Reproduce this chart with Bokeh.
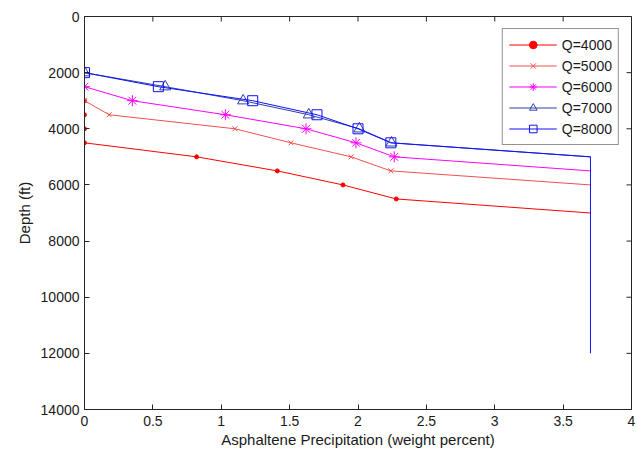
import math
from bokeh.plotting import figure
from bokeh.models import Range1d, FixedTicker, Legend, LegendItem
from bokeh.embed import file_html
from bokeh.resources import INLINE

# ---- data ----
series_names = ["Q=4000", "Q=5000", "Q=6000", "Q=7000", "Q=8000"]

q4000_x = [0, 0, 0, 0, 0, 0.82, 1.41, 1.89, 2.28, 3.70]
q4000_depth = [2500, 3000, 3500, 4000, 4500, 5000, 5500, 6000, 6500, 7000]

q5000_x = [0, 0, 0.18, 1.10, 1.51, 1.95, 2.24, 3.70]
q5000_depth = [2500, 3000, 3500, 4000, 4500, 5000, 5500, 6000]

q6000_x = [0, 0, 0.35, 1.03, 1.62, 1.985, 2.265, 3.70]
q6000_depth = [2000, 2500, 3000, 3500, 4000, 4500, 5000, 5500]

q7000_x = [0, 0, 0.59, 1.16, 1.64, 2.01, 2.245, 3.70]
q7000_depth = [0, 2000, 2500, 3000, 3500, 4000, 4500, 5000]

q8000_x = [0, 0, 0.54, 1.23, 1.70, 2.00, 2.24, 3.70, 3.70]
q8000_depth = [0, 2000, 2500, 3000, 3500, 4000, 4500, 5000, 12000]

x_ticks = [0, 0.5, 1, 1.5, 2, 2.5, 3, 3.5, 4]
y_ticks = [0, 2000, 4000, 6000, 8000, 10000, 12000, 14000]

# ---- styles ----
styles = [
    dict(color="#ff0000", marker="circle", size=4, fill=True, mark=slice(1, 9)),
    dict(color="#ee5050", marker="x", size=7, fill=False, mark=slice(1, 7)),
    dict(color="#ff00ff", marker="asterisk", size=11, fill=False, mark=slice(1, 7)),
    dict(color="#2f40a8", marker="triangle", size=11, fill=False, mark=slice(1, 7)),
    dict(color="#1010ff", marker="square", size=10, fill=False, mark=slice(1, 7)),
]
all_x = [q4000_x, q5000_x, q6000_x, q7000_x, q8000_x]
all_y = [q4000_depth, q5000_depth, q6000_depth, q7000_depth, q8000_depth]

FONT = "Liberation Sans"
TXT = "#1a1a1a"
AXC = "#262626"

p = figure(width=638, height=451, output_backend="svg", toolbar_location=None,
           x_range=Range1d(0, 4), y_range=Range1d(14000, 0),
           x_axis_label="Asphaltene Precipitation (weight percent)",
           y_axis_label="Depth (ft)",
           min_border_left=84, min_border_right=7, min_border_top=16, min_border_bottom=42)
p.grid.visible = False
p.outline_line_color = AXC
p.outline_line_alpha = 1
p.background_fill_color = "white"
p.border_fill_color = "white"

p.xaxis.ticker = FixedTicker(ticks=x_ticks)
p.yaxis.ticker = FixedTicker(ticks=y_ticks)

for ax in (p.xaxis[0], p.yaxis[0]):
    ax.major_tick_in = 5
    ax.major_tick_out = 0
    ax.minor_tick_line_color = None
    ax.axis_line_color = AXC
    ax.major_tick_line_color = AXC
    ax.major_label_text_font = FONT
    ax.major_label_text_font_size = "14px"
    ax.major_label_text_color = TXT
    ax.axis_label_text_font = FONT
    ax.axis_label_text_font_size = "15px"
    ax.axis_label_text_font_style = "normal"
    ax.axis_label_text_color = TXT
p.xaxis.major_label_standoff = 6
p.xaxis.axis_label_standoff = 2
p.yaxis.major_label_standoff = 5
p.yaxis.axis_label_standoff = 5

# inward ticks on the top and right edges of the box
p.ray(x=x_ticks, y=[0] * len(x_ticks), length=5, length_units="screen",
      angle=-math.pi / 2, line_color=AXC, line_width=1)
p.ray(x=[4] * len(y_ticks), y=y_ticks, length=5, length_units="screen",
      angle=math.pi, line_color=AXC, line_width=1)

items = []
for name, xs, ys, st in zip(series_names, all_x, all_y, styles):
    line = p.line(xs, ys, line_color=st["color"], line_width=1)
    mx = xs[st["mark"]]
    my = ys[st["mark"]]
    sc = p.scatter(mx, my, marker=st["marker"], size=st["size"],
                   line_color=st["color"], line_width=1,
                   fill_color=st["color"] if st["fill"] else None)
    items.append(LegendItem(label=name, renderers=[line, sc]))

legend = Legend(items=items, location="top_right")
legend.margin = 12
legend.padding = 6
legend.spacing = 2
legend.glyph_width = 48
legend.glyph_height = 19
legend.label_height = 19
legend.label_standoff = 5
legend.label_text_font = FONT
legend.label_text_font_size = "14px"
legend.label_text_color = TXT
legend.border_line_color = AXC
legend.border_line_width = 1
legend.background_fill_alpha = 1
p.add_layout(legend)

open("out.html", "w").write(file_html(p, INLINE))
